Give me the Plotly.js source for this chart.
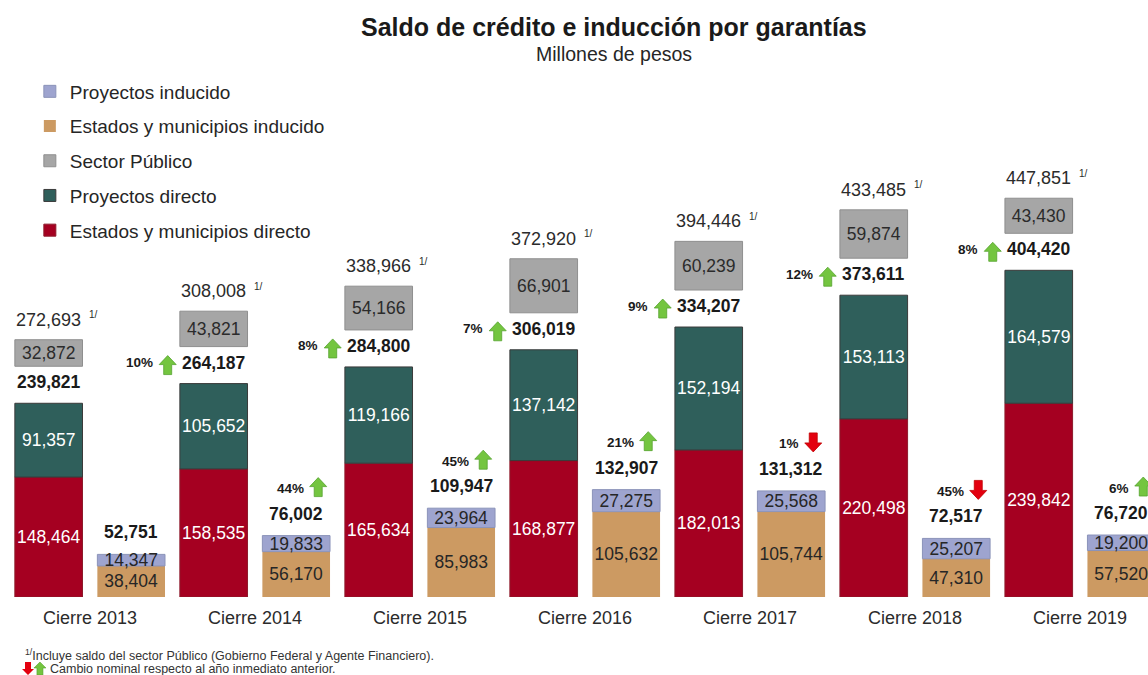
<!DOCTYPE html>
<html>
<head>
<meta charset="utf-8">
<script src="https://cdn.plot.ly/plotly-3.0.1.min.js"></script>
<style>
  html, body { margin: 0; padding: 0; background: #fff; }
  #grafico { width: 1148px; height: 675px; }
</style>
</head>
<body>
<div id="grafico"></div>
<script>
var anos = ["Cierre 2013", "Cierre 2014", "Cierre 2015", "Cierre 2016", "Cierre 2017", "Cierre 2018", "Cierre 2019"];

var estadosDirecto = [148464, 158535, 165634, 168877, 182013, 220498, 239842];
var proyectosDirecto = [91357, 105652, 119166, 137142, 152194, 153113, 164579];
var totalDirecto = [239821, 264187, 284800, 306019, 334207, 373611, 404420];
var sectorPublico = [32872, 43821, 54166, 66901, 60239, 59874, 43430];
var totalGeneral = [272693, 308008, 338966, 372920, 394446, 433485, 447851];

var estadosInducido = [38404, 56170, 85983, 105632, 105744, 47310, 57520];
var proyectosInducido = [14347, 19833, 23964, 27275, 25568, 25207, 19200];
var totalInducido = [52751, 76002, 109947, 132907, 131312, 72517, 76720];

// cambio nominal respecto al año anterior (null = sin dato)
var cambioDirecto = [null, 10, 8, 7, 9, 12, 8];
var cambioInducido = [null, 44, 45, 21, -1, -45, 6];

var fuente = "Liberation Sans, Arial, sans-serif";
var separacion = 45800; // espacio entre la barra directa y el recuadro del sector público
var verde = "#74c540";
var verdeBorde = "#56a32e";
var rojo = "#e3000f";

function fmt(v) { return v.toLocaleString("en-US"); }

// flechas de bloque (en pixeles, relativas al punto de anclaje)
var flechaArriba = "M-4,0 L4,0 L4,10 L8.5,10 L0,19 L-8.5,10 L-4,10 Z";
var flechaAbajo = "M-4,19 L4,19 L4,9 L8.5,9 L0,0 L-8.5,9 L-4,9 Z";
var flechaArribaChica = "M-3,0 L3,0 L3,7 L6,7 L0,13 L-6,7 L-3,7 Z";
var flechaAbajoChica = "M-3,13 L3,13 L3,6 L6,6 L0,0 L-6,6 L-3,6 Z";

var baseProyDir = estadosDirecto.slice();
var baseSector = totalDirecto.map(function (t) { return t + separacion; });
var baseProyInd = estadosInducido.slice();

function serie(nombre, valores, base, grupo, color, borde, colorTexto, rango) {
    return {type: "bar", name: nombre, x: anos, y: valores, base: base, offsetgroup: grupo,
        legendgroup: nombre, legendrank: rango,
        marker: {color: color, line: {color: borde, width: borde ? 1 : 0}},
        text: valores.map(fmt), textposition: "inside", insidetextanchor: "middle", textangle: 0, constraintext: "none",
        textfont: {color: colorTexto, size: 17.5, family: fuente}};
}

var dados = [
    serie("Estados y municipios directo", estadosDirecto, undefined, "d", "#a50021", "#8d1a2b", "#ffffff", 5),
    serie("Proyectos directo", proyectosDirecto, baseProyDir, "d", "#2f5f5b", "#3a3a3a", "#ffffff", 4),
    serie("Sector Público", sectorPublico, baseSector, "d", "#a6a6a6", "#8f8f8f", "#2b2b2b", 3),
    serie("Estados y municipios inducido", estadosInducido, undefined, "i", "#cc9a62", null, "#262626", 2),
    serie("Proyectos inducido", proyectosInducido, baseProyInd, "i", "#9ea4cf", "#8b93b9", "#262626", 1)
];

var anotaciones = [];
var formas = [];

function flecha(x, y, yshift, c, dx) {
    var baja = c < 0;
    formas.push({type: "path", xref: "x", yref: "y", xsizemode: "pixel", ysizemode: "pixel",
        xanchor: x, yanchor: y, path: baja ? flechaAbajo : flechaArriba,
        fillcolor: baja ? rojo : verde, line: {color: baja ? "#c00000" : verdeBorde, width: 0.8}});
    // desplazamiento aplicado al trazo
    var f = formas[formas.length - 1];
    f.path = f.path.replace(/(-?[\d.]+),(-?[\d.]+)/g, function (m, a, b) {
        return (parseFloat(a) + dx) + "," + (parseFloat(b) + yshift);
    });
}

for (var i = 0; i < anos.length; i++) {
    var xd = i - 0.25, xi = i + 0.25;
    // total directo
    anotaciones.push({x: xd, y: totalDirecto[i], xref: "x", yref: "y", yanchor: "middle", yshift: 21, showarrow: false,
        text: "<b>" + fmt(totalDirecto[i]) + "</b>", font: {size: 17.5, color: "#1a1a1a", family: fuente}});
    // total con sector público
    var topeSector = totalDirecto[i] + separacion + sectorPublico[i];
    anotaciones.push({x: xd, y: topeSector, xref: "x", yref: "y", yanchor: "middle", yshift: 20,
        showarrow: false, text: fmt(totalGeneral[i]), font: {size: 18, color: "#2b2b2b", family: fuente}});
    anotaciones.push({x: xd, y: topeSector, xref: "x", yref: "y", yanchor: "middle", yshift: 25,
        xanchor: "left", xshift: 38, showarrow: false, text: "1/", font: {size: 10, color: "#2b2b2b", family: fuente}});
    // total inducido
    anotaciones.push({x: xi, y: totalInducido[i], xref: "x", yref: "y", yanchor: "middle", yshift: 22, showarrow: false,
        text: "<b>" + fmt(totalInducido[i]) + "</b>", font: {size: 17.5, color: "#1a1a1a", family: fuente}});
    if (cambioDirecto[i] !== null) {
        anotaciones.push({x: xd, y: totalDirecto[i], xref: "x", yref: "y", yanchor: "middle", yshift: 21, xanchor: "right", xshift: -59,
            showarrow: false, text: "<b>" + Math.abs(cambioDirecto[i]) + "%</b>",
            font: {size: 13.5, color: "#1a1a1a", family: fuente}});
        flecha(xd, totalDirecto[i], 9, cambioDirecto[i], -46);
    }
    if (cambioInducido[i] !== null) {
        anotaciones.push({x: xi, y: totalInducido[i], xref: "x", yref: "y", yanchor: "middle", yshift: 47, xanchor: "right", xshift: 10,
            showarrow: false, text: "<b>" + Math.abs(cambioInducido[i]) + "%</b>",
            font: {size: 13.5, color: "#1a1a1a", family: fuente}});
        flecha(xi, totalInducido[i], 39, cambioInducido[i], 22);
    }
}

// títulos
anotaciones.push({x: 0.535, y: 1.1025, xref: "paper", yref: "paper", showarrow: false, yanchor: "middle",
    text: "<b>Saldo de crédito e inducción por garantías</b>", font: {size: 25, color: "#1a1a1a", family: fuente}});
anotaciones.push({x: 0.535, y: 1.05, xref: "paper", yref: "paper", showarrow: false, yanchor: "middle",
    text: "Millones de pesos", font: {size: 19.5, color: "#262626", family: fuente}});
// notas
anotaciones.push({x: 0.02, y: -0.112, xref: "paper", yref: "paper", showarrow: false, xanchor: "left", yanchor: "middle",
    text: "<sup>1/</sup>Incluye saldo del sector Público (Gobierno Federal y Agente Financiero).",
    font: {size: 12.5, color: "#333333", family: fuente}});
anotaciones.push({x: 0.042, y: -0.139, xref: "paper", yref: "paper", showarrow: false, xanchor: "left", yanchor: "middle",
    text: "Cambio nominal respecto al año inmediato anterior.",
    font: {size: 12.5, color: "#333333", family: fuente}});
formas.push({type: "path", xref: "paper", yref: "paper", xsizemode: "pixel", ysizemode: "pixel",
    xanchor: 0.0244, yanchor: -0.1509, path: flechaAbajoChica, fillcolor: rojo, line: {width: 0}});
formas.push({type: "path", xref: "paper", yref: "paper", xsizemode: "pixel", ysizemode: "pixel",
    xanchor: 0.0348, yanchor: -0.1509, path: flechaArribaChica, fillcolor: verde, line: {color: verdeBorde, width: 0.6}});

var layout = {
    width: 1148, height: 675,
    margin: {l: 0, r: 0, t: 80, b: 78},
    paper_bgcolor: "#ffffff", plot_bgcolor: "#ffffff",
    barmode: "group", bargap: 0, bargroupgap: 0.18,
    font: {family: fuente, color: "#262626"},
    xaxis: {type: "category", range: [-0.545, 6.412], showgrid: false, zeroline: false, showline: false,
        ticks: "", ticklabelstandoff: 8, tickfont: {size: 18, color: "#2b2b2b", family: fuente}, fixedrange: true},
    yaxis: {range: [0, 640000], visible: false, fixedrange: true},
    showlegend: true,
    legend: {x: 0.026, y: 1.0145, xanchor: "left", yanchor: "top", traceorder: "grouped", tracegroupgap: 7,
        font: {size: 19, color: "#262626", family: fuente}, bgcolor: "rgba(0,0,0,0)"},
    annotations: anotaciones,
    shapes: formas
};

Plotly.newPlot("grafico", dados, layout, {displayModeBar: false, staticPlot: true});
</script>
</body>
</html>
